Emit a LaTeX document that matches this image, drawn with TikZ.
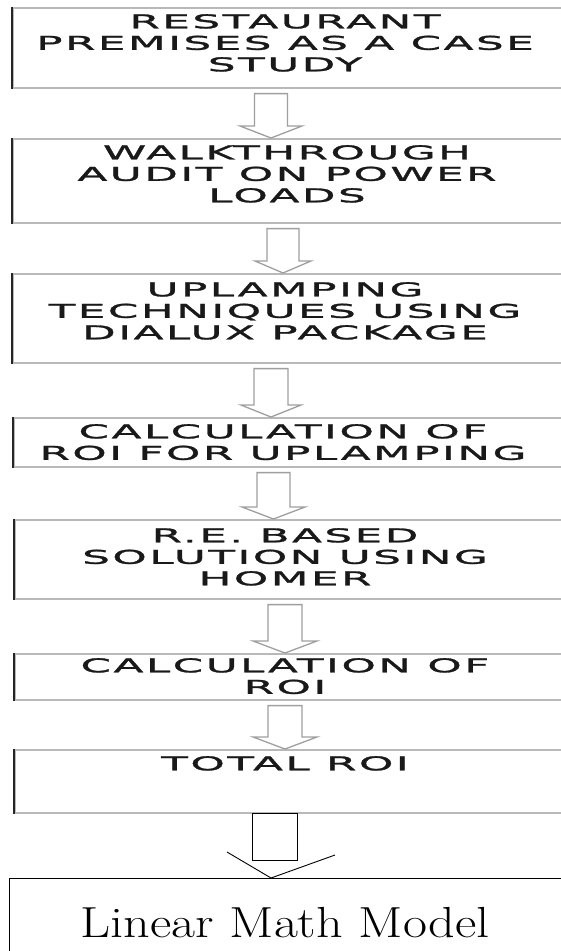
\documentclass[tikz,border=0pt]{standalone}
\usepackage{fontspec}
\usetikzlibrary{calc}
\newfontfamily\capsfont{DejaVu Sans}[FakeStretch=2.3,FakeBold=1.6,LetterSpace=13]
\newcommand\blockarr[5]{%
  \draw[barrow] let \p1=(#1.south), \p2=(#2.north) in
    ({#3pt-#4pt},{\y1-5pt}) -- ({#3pt+#4pt},{\y1-5pt}) -- ({#3pt+#4pt},{\y2+12pt})
    -- ({#3pt+#5pt},{\y2+12pt}) -- ({#3pt},{\y2}) -- ({#3pt-#5pt},{\y2+12pt})
    -- ({#3pt-#4pt},{\y2+12pt}) -- cycle;}
\begin{document}
\begin{tikzpicture}[x=1pt,y=-1pt,
  box/.style={draw=gray!55, line width=1.6pt, rectangle, anchor=north west, inner sep=0pt, minimum width=600pt},
  ledge/.style={draw=black!85, line width=1.4pt},
  txt/.style={anchor=north, inner sep=0pt, align=center, font=\capsfont\fontsize{19}{21.5}\selectfont, text=black!90},
  barrow/.style={draw=gray!75, line width=1.3pt, fill=white, line join=miter},
  sqbox/.style={draw=black, line width=1.1pt, anchor=north west, inner sep=0pt, minimum width=45pt, minimum height=47pt},
  thinline/.style={draw=black, line width=0.9pt},
  lastbox/.style={draw=black, line width=1.2pt, rectangle, anchor=north west, inner sep=0pt, minimum width=600pt, minimum height=100pt},
]
\useasboundingbox (0,0) rectangle (561,951);
\fill[white] (0,0) rectangle (561,951);
% boxes
\node[box, minimum height=80pt] (b1) at (12,7) {};
\node[box, minimum height=84pt] (b2) at (12,138) {};
\node[box, minimum height=89pt] (b3) at (12,273) {};
\node[box, minimum height=49pt] (b4) at (13,417) {};
\node[box, minimum height=79pt] (b5) at (14,519) {};
\node[box, minimum height=46pt] (b6) at (14,653) {};
\node[box, minimum height=63pt] (b7) at (14,749) {};
\node[lastbox] (b8) at (9,878) {};
\foreach \b in {b1,b2,b3,b4,b5,b6,b7}{\draw[ledge] (\b.north west) -- (\b.south west);}
% texts
\node[txt] (t1) at ($(285,0 |- b1.north)+(0,7)$) {RESTAURANT\\PREMISES AS A CASE\\STUDY};
\node[txt] (t2) at ($(287,0 |- b2.north)+(0,7)$) {WALKTHROUGH\\AUDIT ON POWER\\LOADS};
\node[txt] (t3) at ($(285,0 |- b3.north)+(0,9)$) {UPLAMPING\\TECHNIQUES USING\\DIALUX PACKAGE};
\node[txt] (t4) at ($(283,0 |- b4.north)+(0,7)$) {CALCULATION OF\\ROI FOR UPLAMPING};
\node[txt] (t5) at ($(285,0 |- b5.north)+(0,9)$) {R.E. BASED\\SOLUTION USING\\HOMER};
\node[txt] (t6) at ($(285,0 |- b6.north)+(0,5)$) {CALCULATION OF\\ROI};
\node[txt] (t7) at ($(285,0 |- b7.north)+(0,7)$) {TOTAL ROI};
\node[anchor=base, inner sep=0pt, font=\fontsize{43.5}{50}\selectfont, xscale=1.2, transform shape] (t8) at (285,937) {Linear Math Model};
% block arrows
\blockarr{b1}{b2}{271}{16.5}{31}
\blockarr{b2}{b3}{283}{16}{28}
\blockarr{b3}{b4}{271}{17}{30}
\blockarr{b4}{b5}{273.5}{16.5}{31.5}
\blockarr{b5}{b6}{285}{17}{32}
\blockarr{b6}{b7}{285}{17}{32}
% last arrow
\node[sqbox] (sq) at (252,813) {};
\coordinate (tip) at (271,0 |- b8.north);
\coordinate (lend) at (227,852);
\coordinate (rend) at (335,855);
\draw[thinline] (lend) -- (tip) -- (rend);
\end{tikzpicture}
\end{document}
